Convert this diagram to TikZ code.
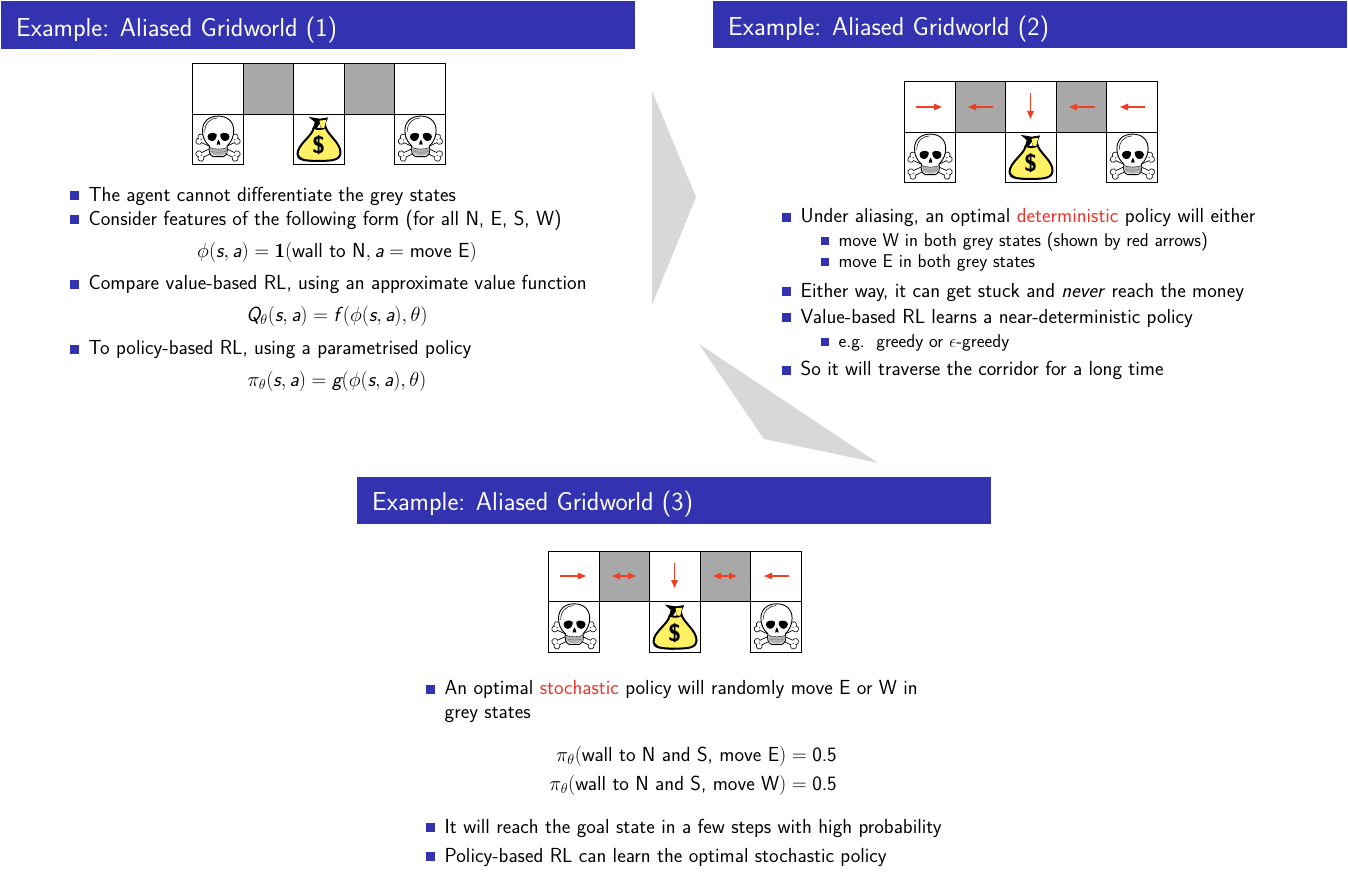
\RequirePackage{fix-cm}
\documentclass[tikz,border=0pt]{standalone}
\usepackage{fontspec}
\usetikzlibrary{arrows.meta}
\DeclareMathAlphabet{\msl}{TU}{lmss}{m}{sl}
\definecolor{bar}{RGB}{51,51,178}
\definecolor{hl}{RGB}{237,50,40}
\definecolor{arrowred}{RGB}{238,64,36}
\definecolor{cellgrey}{RGB}{168,168,168}
\definecolor{wedge}{RGB}{216,216,216}
\definecolor{bagyellow}{RGB}{255,240,100}
\tikzset{
  titlebar/.style={fill=bar,draw=none},
  titletext/.style={text=white,anchor=base west,inner sep=0pt,font=\fontsize{26}{30}\sffamily},
  body/.style={anchor=base west,inner sep=0pt,font=\fontsize{20.35}{24}\sffamily},
  sub/.style={anchor=base west,inner sep=0pt,font=\fontsize{18.5}{22}\sffamily},
  eq/.style={anchor=base,inner sep=0pt,font=\fontsize{20.35}{24}\sffamily},
  cell/.style={draw=black,line width=1.1pt},
  redarrow/.style={draw=arrowred,line width=1.2pt,-{Triangle[length=8pt,width=6.5pt]}},
  redboth/.style={draw=arrowred,line width=1.2pt,{Triangle[length=8pt,width=6.5pt]}-{Triangle[length=8pt,width=6.5pt]}},
  bul/.style={fill=bar,draw=none},
}
% one crossbone: #1 colour, #2 shaft width, #3 knob radius
\newcommand{\bonepass}[3]{%
  \draw[#1,line width=#2pt] (-18,0) -- (18,0);
  \foreach \sx in {-1,1}{\foreach \sy in {-1,1}{
    \fill[#1] (\sx*20,\sy*2.4) circle (#3);
  }}
}
\newcommand{\skull}[1]{%
\begin{scope}[shift={(#1)}]
  \begin{scope}[shift={(25.5,33.5)}]
    \begin{scope}[rotate=-25]\bonepass{black}{5.6}{3.4}\end{scope}
    \begin{scope}[rotate=25]\bonepass{black}{5.6}{3.4}\end{scope}
    \begin{scope}[rotate=-25]\bonepass{white}{4}{2.6}\end{scope}
    \begin{scope}[rotate=25]\bonepass{white}{4}{2.6}\end{scope}
  \end{scope}
  % cranium
  \draw[black,line width=0.9pt,fill=white]
    (17,32) .. controls (12,28) and (10,22) .. (10,16.5)
    .. controls (10,7) and (17,2) .. (25.7,2)
    .. controls (34.5,2) and (41.2,7) .. (41.2,16.5)
    .. controls (41.2,22) and (39,28) .. (34.5,32)
    .. controls (35.5,37) and (34.5,41) .. (31,42.5)
    -- (20.5,42.5) .. controls (17,41) and (16,37) .. cycle;
  \draw[black,line width=0.5pt] (12.2,18) .. controls (12.2,9) and (18,4) .. (25,3.8);
  % eyes and nose
  \fill[black] (15,22.5) .. controls (15,19) and (21,17.5) .. (24,20)
     .. controls (25,23) and (22,27.5) .. (19,27) .. controls (16.5,26.5) and (15,25) .. cycle;
  \fill[black] (37,22.5) .. controls (37,19) and (31,17.5) .. (28,20)
     .. controls (27,23) and (30,27.5) .. (33,27) .. controls (35.5,26.5) and (37,25) .. cycle;
  \fill[black] (26,25.5) .. controls (24.8,27.5) and (23.8,30) .. (24.4,31) -- (25.5,30.3) -- (26.5,30.3) -- (27.6,31) .. controls (28.2,30) and (27.2,27.5) .. cycle;
  % teeth
  \fill[black!30] (17.5,33.5) .. controls (22,35.5) and (30,35.5) .. (34.5,33.5) -- (34,39) .. controls (31,42.5) and (21,42.5) .. (18,39) -- cycle;
  \draw[black,line width=0.4pt] (17.5,33.5) .. controls (22,35.5) and (30,35.5) .. (34.5,33.5);
  \draw[black!60,line width=0.3pt] (17.5,36.8) .. controls (22,38.6) and (30,38.6) .. (34.5,36.8);
\end{scope}}
\newcommand{\moneybag}[1]{%
\begin{scope}[shift={(#1)}]
  \draw[black,line width=2pt,fill=bagyellow,line join=round]
    (20,13.5) .. controls (23,15.5) and (29,15.5) .. (32,13)
    .. controls (33,20) and (47.5,29) .. (46.8,39)
    .. controls (46,46) and (39,46.8) .. (25.5,46.8)
    .. controls (11,46.8) and (3.8,46) .. (3.8,40)
    .. controls (3.8,30) and (19,22) .. cycle;
  \draw[black,line width=1.2pt] (5,42) .. controls (8,46.5) and (16,47) .. (25,47.3);
  \fill[black] (15,2.8) -- (26,4.6) -- (34.5,3.3) -- (32.5,8) -- (32.5,14) -- (27,14) -- (26,9.5) -- (22.5,15) -- (19.5,14) -- (21,8) -- cycle;
  \fill[bagyellow] (25.8,6.5) -- (32.5,5.8) -- (30.5,14) -- (27,13.5) -- cycle;
  \node[inner sep=0pt,font=\fontsize{24}{24}\sffamily\bfseries,text=black] (dollar) at (25,31.5) {\$};
\end{scope}}
\newcommand{\gridw}[1]{%
\begin{scope}[shift={(#1)}]
  \fill[cellgrey] (50.5,0) rectangle (101,50.5);
  \fill[cellgrey] (151.5,0) rectangle (202,50.5);
  \foreach \i in {0,...,4}{\draw[cell] (50.6*\i,0) rectangle ++(50.6,50.6);}
  \foreach \i in {0,2,4}{\draw[cell] (50.6*\i,50.6) rectangle ++(50.6,50.6);}
  \skull{0,50.6}
  \moneybag{101.2,50.6}
  \skull{202.4,50.6}
\end{scope}}
\newcommand{\bu}[2]{\fill[bul] (#1-4.7,#2-8.6) rectangle ++(8.4,8.4);}
\newcommand{\bus}[2]{\fill[bul] (#1-4,#2-9) rectangle ++(8,8);}
\begin{document}
\begin{tikzpicture}[x=1pt,y=-1pt]
\useasboundingbox (0,0) rectangle (1348,872);
\fill[white] (0,0) rectangle (1348,872);
% wedges
\fill[wedge] (652,91) -- (696,197) -- (652,305) -- cycle;
\fill[wedge] (699,344) -- (764,439) -- (878,463) -- cycle;
% slide 1
\fill[titlebar] (1,1) rectangle (635,49);
\node[titletext] (t1) at (16,37) {Example: Aliased Gridworld (1)};
\gridw{192.5,63.5}
\bu{75}{200}
\node[body] (a1) at (88.5,201) {The agent cannot differentiate the grey states};
\bu{75}{224}
\node[body] (a2) at (88.5,225) {Consider features of the following form (for all N, E, S, W)};
\node[eq] (a3) at (337,257) {$\phi(\msl{s},\msl{a}) = \mathbf{1}(\mbox{wall to N},\msl{a} = \mbox{move E})$};
\bu{75}{289}
\node[body] (a4) at (88.5,289) {Compare value-based RL, using an approximate value function};
\node[eq] (a5) at (337,321) {$\msl{Q}_\theta(\msl{s},\msl{a}) = \msl{f}\,(\phi(\msl{s},\msl{a}),\theta)$};
\bu{75}{354}
\node[body] (a6) at (88.5,354) {To policy-based RL, using a parametrised policy};
\node[eq] (a7) at (337,386) {$\pi_\theta(\msl{s},\msl{a}) = \msl{g}(\phi(\msl{s},\msl{a}),\theta)$};
% slide 2
\fill[titlebar] (713,1) rectangle (1347,48);
\node[titletext] (t2) at (728,36) {Example: Aliased Gridworld (2)};
\gridw{904.5,81.5}
\draw[redarrow] (916,107) -- (942,107);
\draw[redarrow] (993,107) -- (968,107);
\draw[redarrow] (1030.5,93.5) -- (1030.5,119);
\draw[redarrow] (1095,107) -- (1069,107);
\draw[redarrow] (1145,107) -- (1120,107);
\bu{787}{222}
\node[body] (b1) at (800.5,222) {Under aliasing, an optimal {\color{hl}deterministic} policy will either};
\bus{825}{246}
\node[sub] (b2) at (838.5,246) {move W in both grey states (shown by red arrows)};
\bus{825}{267}
\node[sub] (b3) at (838.5,267) {move E in both grey states};
\bu{787}{296}
\node[body] (b4) at (800.5,297) {Either way, it can get stuck and \textsl{never} reach the money};
\bu{787}{322}
\node[body] (b5) at (800.5,323) {Value-based RL learns a near-deterministic policy};
\bus{825}{347}
\node[sub] (b6) at (838.5,347) {e.g.\ \ greedy or $\epsilon$-greedy};
\bu{787}{375}
\node[body] (b7) at (800.5,375) {So it will traverse the corridor for a long time};
% slide 3
\fill[titlebar] (357,477) rectangle (991,524);
\node[titletext] (t3) at (372,510) {Example: Aliased Gridworld (3)};
\gridw{548.5,551.2}
\draw[redarrow] (560,576) -- (586,576);
\draw[redboth] (612,576) -- (636,576);
\draw[redarrow] (674.5,562.5) -- (674.5,588);
\draw[redboth] (713,576) -- (737,576);
\draw[redarrow] (789,576) -- (764,576);
\bu{431}{694}
\node[body] (c1) at (444.5,694) {An optimal {\color{hl}stochastic} policy will randomly move E or W in};
\node[body] (c2) at (444.5,718) {grey states};
\node[eq,anchor=base east] (c3) at (837,761) {$\pi_\theta(\mbox{wall to N and S, move E}) = \mbox{0.5}$};
\node[eq,anchor=base east] (c4) at (837,790) {$\pi_\theta(\mbox{wall to N and S, move W}) = \mbox{0.5}$};
\bu{431}{832}
\node[body] (c5) at (444.5,833) {It will reach the goal state in a few steps with high probability};
\bu{431}{861}
\node[body] (c6) at (444.5,862) {Policy-based RL can learn the optimal stochastic policy};
\end{tikzpicture}
\end{document}
